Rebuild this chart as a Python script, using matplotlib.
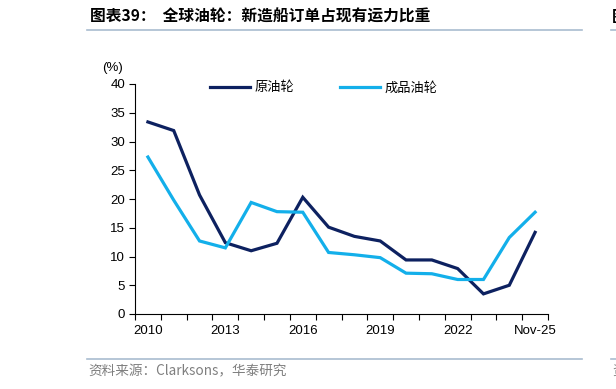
import matplotlib
matplotlib.use("Agg")
import matplotlib.pyplot as plt
from matplotlib.lines import Line2D

plt.rcParams['font.family'] = ['Liberation Sans', 'Noto Sans CJK SC', 'DejaVu Sans']

categories = ['2010', '2011', '2012', '2013', '2014', '2015', '2016', '2017',
              '2018', '2019', '2020', '2021', '2022', '2023', '2024', 'Nov-25']
crude = [33.4, 31.9, 20.7, 12.4, 11.0, 12.3, 20.3, 15.1,
         13.5, 12.7, 9.4, 9.4, 7.9, 3.5, 5.0, 14.2]
product = [27.3, 19.8, 12.7, 11.5, 19.4, 17.8, 17.7, 10.7,
           10.3, 9.8, 7.1, 7.0, 6.0, 6.0, 13.3, 17.7]
series_names = ['原油轮', '成品油轮']
xtick_labels = ['2010', '2013', '2016', '2019', '2022', 'Nov-25']
xtick_idx = [0, 3, 6, 9, 12, 15]
yticks = [0, 5, 10, 15, 20, 25, 30, 35, 40]

title = '图表39：  全球油轮：新造船订单占现有运力比重'
source = '资料来源：Clarksons，华泰研究'

navy = '#0D2160'
light = '#13AFEA'

fig = plt.figure(figsize=(6.16, 3.89), dpi=100)
W, H = 616, 389
ax = fig.add_axes([135 / W, (H - 314) / H, (548 - 135) / W, (314 - 84) / H])

x = list(range(len(categories)))
ax.plot(x, crude, color=navy, lw=2.3, label=series_names[0], solid_joinstyle='miter')
ax.plot(x, product, color=light, lw=2.3, label=series_names[1], solid_joinstyle='miter')

ax.set_xlim(-0.5, len(categories) - 0.5)
ax.set_ylim(0, 40)
ax.set_yticks(yticks)
ax.set_xticks(xtick_idx)
ax.set_xticklabels(xtick_labels)
ax.set_xticks([i - 0.5 for i in range(len(categories) + 1)], minor=True)
ax.tick_params(axis='x', which='major', length=0, pad=8, labelsize=9.5)
ax.tick_params(axis='x', which='minor', length=4, width=0.8, direction='out')
ax.tick_params(axis='y', length=4, width=0.8, direction='out', labelsize=9.5, pad=3)

for s in ['top', 'right']:
    ax.spines[s].set_visible(False)
for s in ['left', 'bottom']:
    ax.spines[s].set_linewidth(0.8)
    ax.spines[s].set_color('black')

ax.text(-0.08, 1.07, '(%)', transform=ax.transAxes, fontsize=9.5, ha='left', va='center')

leg = ax.legend(loc='center left', bbox_to_anchor=((210 - 135) / 413, (314 - 88) / 230),
                ncol=2, frameon=False, borderpad=0, borderaxespad=0,
                handlelength=3.0, handletextpad=0.35, columnspacing=3.5,
                prop={'family': ['Noto Sans CJK SC'], 'size': 9.5})

fig.text(90 / W, 1 - 17 / H, title, fontsize=11.3, fontweight='bold',
         family=['Noto Sans CJK SC'], ha='left', va='center')
fig.text(612 / W, 1 - 17 / H, '图', fontsize=11.3, fontweight='bold',
         family=['Noto Sans CJK SC'], ha='left', va='center')
fig.add_artist(Line2D([87 / W, 582 / W], [1 - 29.5 / H, 1 - 29.5 / H], color='#A9BCD0', lw=1.2))
fig.add_artist(Line2D([611 / W, 1.0], [1 - 29.5 / H, 1 - 29.5 / H], color='#A9BCD0', lw=1.2))
fig.add_artist(Line2D([87 / W, 582 / W], [1 - 359 / H, 1 - 359 / H], color='#A9BCD0', lw=1.2))
fig.add_artist(Line2D([611 / W, 1.0], [1 - 359 / H, 1 - 359 / H], color='#A9BCD0', lw=1.2))
fig.text(88 / W, 1 - 371 / H, source, fontsize=9.8, color='#7F7F7F',
         family=['Noto Sans CJK SC'], ha='left', va='center')
fig.text(612 / W, 1 - 371 / H, '资', fontsize=9.8, color='#7F7F7F',
         family=['Noto Sans CJK SC'], ha='left', va='center')

fig.savefig('out.png', dpi=100)
